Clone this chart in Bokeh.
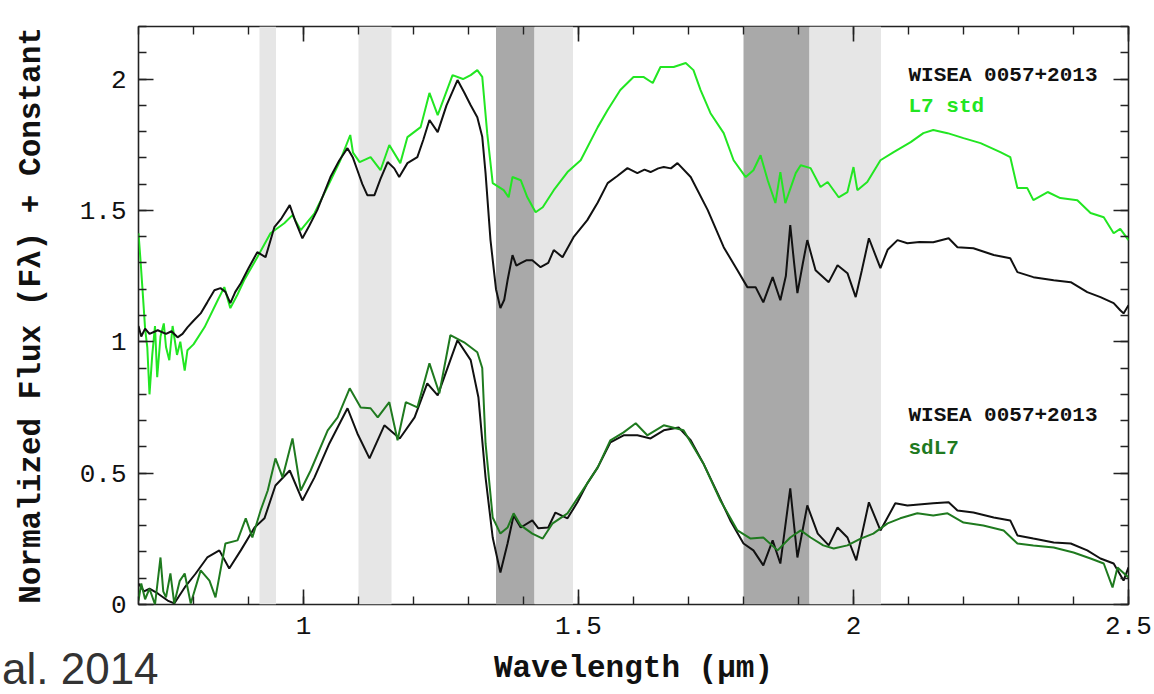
from bokeh.plotting import figure
from bokeh.models import Range1d, FixedTicker, LinearAxis, CustomJSTickFormatter, BoxAnnotation, Div
from bokeh.core.properties import value
from bokeh.embed import file_html
from bokeh.resources import INLINE
import numpy as np

# ---------------- data ----------------
wise_top_wl = [0.700, 0.705, 0.712, 0.720, 0.735, 0.750, 0.760, 0.771, 0.780, 0.789, 0.800, 0.813, 0.825, 0.838,
               0.849, 0.858, 0.867, 0.876, 0.886, 0.900, 0.916, 0.931, 0.947, 0.960, 0.975, 0.985, 0.998, 1.010,
               1.025, 1.049, 1.065, 1.080, 1.090, 1.098, 1.107, 1.116, 1.129, 1.140, 1.153, 1.165, 1.174, 1.189,
               1.207, 1.218, 1.229, 1.244, 1.260, 1.280, 1.292, 1.304, 1.316, 1.325, 1.331, 1.340, 1.350, 1.358,
               1.365, 1.371, 1.380, 1.387, 1.395, 1.405, 1.416, 1.431, 1.445, 1.455, 1.471, 1.491, 1.516, 1.535,
               1.553, 1.570, 1.589, 1.607, 1.620, 1.631, 1.645, 1.655, 1.668, 1.680, 1.704, 1.735, 1.764, 1.789,
               1.807, 1.822, 1.836, 1.853, 1.867, 1.877, 1.885, 1.892, 1.898, 1.908, 1.916, 1.931, 1.955, 1.971,
               1.989, 2.004, 2.015, 2.028, 2.049, 2.062, 2.080, 2.098, 2.120, 2.145, 2.173, 2.189, 2.218, 2.255,
               2.285, 2.298, 2.327, 2.364, 2.395, 2.425, 2.449, 2.473, 2.485, 2.491, 2.500]
wise_top_fl = [1.060, 1.020, 1.050, 1.030, 1.044, 1.030, 1.040, 1.017, 1.030, 1.055, 1.080, 1.108, 1.150, 1.196,
               1.204, 1.190, 1.147, 1.190, 1.223, 1.280, 1.341, 1.322, 1.436, 1.470, 1.520, 1.460, 1.394, 1.440,
               1.501, 1.627, 1.690, 1.737, 1.700, 1.653, 1.600, 1.558, 1.558, 1.620, 1.684, 1.660, 1.627, 1.680,
               1.703, 1.770, 1.844, 1.798, 1.900, 1.996, 1.950, 1.900, 1.855, 1.780, 1.642, 1.387, 1.200, 1.128,
               1.160, 1.234, 1.330, 1.290, 1.299, 1.310, 1.310, 1.284, 1.300, 1.349, 1.322, 1.398, 1.463, 1.530,
               1.604, 1.630, 1.661, 1.642, 1.655, 1.646, 1.660, 1.665, 1.660, 1.680, 1.627, 1.501, 1.360, 1.272,
               1.208, 1.208, 1.150, 1.246, 1.158, 1.250, 1.444, 1.300, 1.185, 1.300, 1.387, 1.272, 1.227, 1.291,
               1.261, 1.170, 1.270, 1.394, 1.280, 1.350, 1.387, 1.375, 1.380, 1.379, 1.394, 1.360, 1.356, 1.330,
               1.318, 1.265, 1.246, 1.234, 1.227, 1.189, 1.170, 1.147, 1.120, 1.108, 1.139]

l7_top_wl = [0.700, 0.704, 0.707, 0.712, 0.716, 0.720, 0.725, 0.730, 0.734, 0.740, 0.746, 0.750, 0.756, 0.762,
             0.770, 0.776, 0.784, 0.789, 0.800, 0.820, 0.844, 0.856, 0.867, 0.880, 0.892, 0.916, 0.940, 0.965,
             0.980, 0.995, 1.020, 1.047, 1.067, 1.085, 1.090, 1.102, 1.122, 1.140, 1.156, 1.176, 1.189, 1.213,
             1.229, 1.244, 1.271, 1.290, 1.304, 1.316, 1.325, 1.334, 1.344, 1.364, 1.373, 1.380, 1.395, 1.407,
             1.422, 1.435, 1.455, 1.480, 1.504, 1.535, 1.553, 1.576, 1.600, 1.618, 1.635, 1.649, 1.673, 1.695,
             1.709, 1.722, 1.740, 1.764, 1.782, 1.804, 1.818, 1.831, 1.844, 1.858, 1.867, 1.876, 1.895, 1.904,
             1.922, 1.940, 1.953, 1.973, 1.989, 2.000, 2.007, 2.025, 2.049, 2.073, 2.104, 2.127, 2.145, 2.171,
             2.200, 2.231, 2.267, 2.285, 2.298, 2.316, 2.327, 2.353, 2.376, 2.407, 2.431, 2.455, 2.473, 2.485,
             2.500]
l7_top_fl = [1.413, 1.300, 1.208, 1.050, 0.979, 0.800, 0.950, 1.060, 0.865, 1.020, 1.070, 0.980, 0.930, 1.060,
             0.950, 1.000, 0.890, 0.968, 0.990, 1.055, 1.158, 1.208, 1.128, 1.180, 1.234, 1.322, 1.413, 1.451,
             1.482, 1.425, 1.489, 1.604, 1.691, 1.787, 1.720, 1.684, 1.703, 1.653, 1.749, 1.680, 1.779, 1.817,
             1.947, 1.863, 2.015, 2.000, 2.015, 2.034, 2.008, 1.794, 1.604, 1.577, 1.550, 1.627, 1.615, 1.550,
             1.493, 1.512, 1.577, 1.646, 1.691, 1.817, 1.882, 1.958, 2.008, 2.008, 1.985, 2.046, 2.046, 2.061,
             2.034, 1.958, 1.870, 1.794, 1.691, 1.627, 1.653, 1.710, 1.615, 1.528, 1.646, 1.528, 1.642, 1.672,
             1.661, 1.589, 1.608, 1.550, 1.570, 1.665, 1.577, 1.608, 1.691, 1.722, 1.760, 1.794, 1.806, 1.794,
             1.775, 1.756, 1.722, 1.703, 1.585, 1.585, 1.539, 1.570, 1.547, 1.539, 1.490, 1.474, 1.413, 1.430,
             1.387]

wise_bot_wl = [0.700, 0.710, 0.720, 0.735, 0.753, 0.765, 0.784, 0.804, 0.825, 0.847, 0.865, 0.886, 0.911, 0.929,
               0.949, 0.975, 0.998, 1.020, 1.047, 1.080, 1.098, 1.120, 1.147, 1.175, 1.202, 1.225, 1.244, 1.280,
               1.304, 1.318, 1.331, 1.344, 1.358, 1.371, 1.382, 1.395, 1.416, 1.427, 1.445, 1.458, 1.480, 1.498,
               1.516, 1.535, 1.558, 1.582, 1.607, 1.631, 1.655, 1.682, 1.704, 1.727, 1.753, 1.776, 1.800, 1.818,
               1.836, 1.853, 1.867, 1.885, 1.898, 1.916, 1.935, 1.955, 1.971, 1.989, 2.005, 2.028, 2.049, 2.076,
               2.098, 2.145, 2.173, 2.189, 2.218, 2.255, 2.285, 2.298, 2.327, 2.364, 2.395, 2.425, 2.449, 2.473,
               2.491, 2.500]
wise_bot_fl = [0.080, 0.050, 0.060, 0.042, 0.015, 0.004, 0.065, 0.118, 0.179, 0.206, 0.137, 0.206, 0.293, 0.328,
               0.453, 0.510, 0.396, 0.484, 0.613, 0.747, 0.651, 0.556, 0.682, 0.632, 0.712, 0.842, 0.796, 1.006,
               0.930, 0.789, 0.484, 0.255, 0.122, 0.232, 0.339, 0.293, 0.320, 0.290, 0.293, 0.350, 0.328, 0.389,
               0.461, 0.522, 0.617, 0.644, 0.644, 0.632, 0.663, 0.674, 0.625, 0.537, 0.423, 0.320, 0.232, 0.206,
               0.149, 0.244, 0.156, 0.442, 0.179, 0.377, 0.270, 0.225, 0.293, 0.255, 0.168, 0.389, 0.282, 0.385,
               0.377, 0.385, 0.389, 0.358, 0.350, 0.331, 0.320, 0.263, 0.251, 0.236, 0.232, 0.206, 0.175, 0.156,
               0.091, 0.141]

sdl7_bot_wl = [0.700, 0.705, 0.712, 0.720, 0.730, 0.740, 0.745, 0.750, 0.758, 0.765, 0.775, 0.784, 0.795, 0.813,
               0.829, 0.840, 0.858, 0.880, 0.895, 0.907, 0.922, 0.935, 0.949, 0.962, 0.980, 0.995, 1.013, 1.044,
               1.062, 1.084, 1.104, 1.122, 1.135, 1.156, 1.171, 1.186, 1.207, 1.229, 1.247, 1.267, 1.292, 1.316,
               1.325, 1.331, 1.344, 1.358, 1.371, 1.382, 1.395, 1.416, 1.435, 1.453, 1.480, 1.504, 1.535, 1.558,
               1.582, 1.604, 1.625, 1.655, 1.691, 1.727, 1.758, 1.789, 1.813, 1.836, 1.862, 1.885, 1.904, 1.922,
               1.945, 1.964, 1.989, 2.013, 2.036, 2.062, 2.085, 2.116, 2.145, 2.171, 2.200, 2.236, 2.273, 2.298,
               2.327, 2.364, 2.400, 2.431, 2.455, 2.471, 2.480, 2.500]
sdl7_bot_fl = [0.015, 0.080, 0.020, 0.060, 0.000, 0.179, 0.050, 0.027, 0.118, 0.004, 0.090, 0.118, 0.004, 0.130,
               0.091, 0.027, 0.232, 0.244, 0.328, 0.255, 0.358, 0.434, 0.556, 0.484, 0.632, 0.434, 0.510, 0.663,
               0.712, 0.823, 0.750, 0.747, 0.712, 0.770, 0.625, 0.770, 0.750, 0.918, 0.804, 1.025, 0.998, 0.960,
               0.900, 0.613, 0.331, 0.270, 0.293, 0.347, 0.301, 0.270, 0.251, 0.309, 0.347, 0.423, 0.522, 0.625,
               0.655, 0.690, 0.644, 0.682, 0.663, 0.537, 0.396, 0.282, 0.251, 0.255, 0.206, 0.255, 0.282, 0.255,
               0.225, 0.213, 0.225, 0.251, 0.270, 0.309, 0.328, 0.347, 0.339, 0.347, 0.312, 0.301, 0.282, 0.232,
               0.225, 0.217, 0.198, 0.175, 0.156, 0.065, 0.141, 0.103]

# shaded telluric regions (microns)
band_left = [0.92, 1.10, 1.35, 1.42, 1.80, 1.92]
band_right = [0.95, 1.16, 1.42, 1.49, 1.92, 2.05]
band_kind = ["light", "light", "dark", "light", "dark", "light"]

# annotation texts
label_text = ["WISEA 0057+2013", "L7 std", "WISEA 0057+2013", "sdL7"]
label_x = [2.10, 2.10, 2.10, 2.10]
label_y = [2.015, 1.895, 0.720, 0.594]
label_color = ["#111111", "#22e622", "#111111", "#1f7a1f"]

citation_text = "al. 2014"

x_major = [1.0, 1.5, 2.0, 2.5]
y_major = [0.0, 0.5, 1.0, 1.5, 2.0]

# ---------------- figure ----------------
C_BLACK = "#111111"
C_LIME = "#22e622"
C_DKGREEN = "#1f7a1f"
FRAME = "#222222"
MONO = "Liberation Mono"

p = figure(width=1154, height=694, x_range=Range1d(0.7, 2.5), y_range=Range1d(0, 2.2),
           output_backend="svg", toolbar_location=None,
           min_border_left=138, min_border_right=26, min_border_top=26, min_border_bottom=90)
p.background_fill_color = "white"
p.border_fill_color = "white"
p.grid.visible = False
p.outline_line_color = FRAME
p.outline_line_width = 1.6

for l, r, k in zip(band_left, band_right, band_kind):
    p.add_layout(BoxAnnotation(left=l, right=r, fill_color="#a9a9a9" if k == "dark" else "#e6e6e6",
                               fill_alpha=1.0, line_color=None, level="underlay"))

p.line(l7_top_wl, l7_top_fl, line_color=C_LIME, line_width=2)
p.line(wise_top_wl, wise_top_fl, line_color=C_BLACK, line_width=2)
p.line(wise_bot_wl, wise_bot_fl, line_color=C_BLACK, line_width=2)
p.line(sdl7_bot_wl, sdl7_bot_fl, line_color=C_DKGREEN, line_width=2)

p.text(x=label_x, y=label_y, text=label_text, text_color=label_color,
       text_font=value(MONO), text_font_style="bold", text_font_size="21px",
       text_baseline="middle", text_align="left")

xminor = list(np.round(np.arange(0.7, 2.5001, 0.1), 3))
yminor = list(np.round(np.arange(0.0, 2.2001, 0.1), 3))
xticker = FixedTicker(ticks=x_major, minor_ticks=xminor)
yticker = FixedTicker(ticks=y_major, minor_ticks=yminor)
fmt = CustomJSTickFormatter(code="return String(Math.round(tick*10)/10);")
blank_fmt = CustomJSTickFormatter(code="return '';")


def style_axis(ax, show_labels):
    ax.axis_line_color = None
    ax.major_tick_in = 15
    ax.major_tick_out = 0
    ax.minor_tick_in = 8
    ax.minor_tick_out = 0
    ax.major_tick_line_color = FRAME
    ax.minor_tick_line_color = FRAME
    ax.major_tick_line_width = 1.6
    ax.minor_tick_line_width = 1.4
    if show_labels:
        ax.major_label_text_font = MONO
        ax.major_label_text_font_size = "26px"
        ax.major_label_text_color = "#111111"
        ax.major_label_standoff = 12
        ax.axis_label_text_font = MONO
        ax.axis_label_text_font_size = "31px"
        ax.axis_label_text_font_style = "bold"
        ax.axis_label_text_color = "#111111"
    else:
        ax.formatter = blank_fmt
        ax.major_label_text_font_size = "10px"
        ax.major_label_standoff = 0


p.xaxis.ticker = xticker
p.yaxis.ticker = yticker
p.xaxis.formatter = fmt
p.yaxis.formatter = fmt
style_axis(p.xaxis[0], True)
style_axis(p.yaxis[0], True)
p.xaxis.axis_label = "Wavelength (μm)"
p.yaxis.axis_label = "Normalized Flux (Fλ) + Constant"
p.xaxis.axis_label_standoff = 14
p.yaxis.axis_label_standoff = 28

top_ax = LinearAxis(ticker=xticker)
style_axis(top_ax, False)
p.add_layout(top_ax, "above")
right_ax = LinearAxis(ticker=yticker)
style_axis(right_ax, False)
p.add_layout(right_ax, "right")

# cropped citation fragment at the bottom-left corner (outside the frame -> floating HTML element)
cite = Div(text=citation_text, styles={
    "position": "absolute", "left": "2px", "top": "651px",
    "font-family": "'Liberation Sans', Arial, sans-serif", "font-size": "44px",
    "line-height": "36px", "height": "36px", "overflow": "visible",
    "color": "#333333", "white-space": "nowrap", "z-index": "5",
})
p.elements = [cite]

open("out.html", "w").write(file_html(p, INLINE))
